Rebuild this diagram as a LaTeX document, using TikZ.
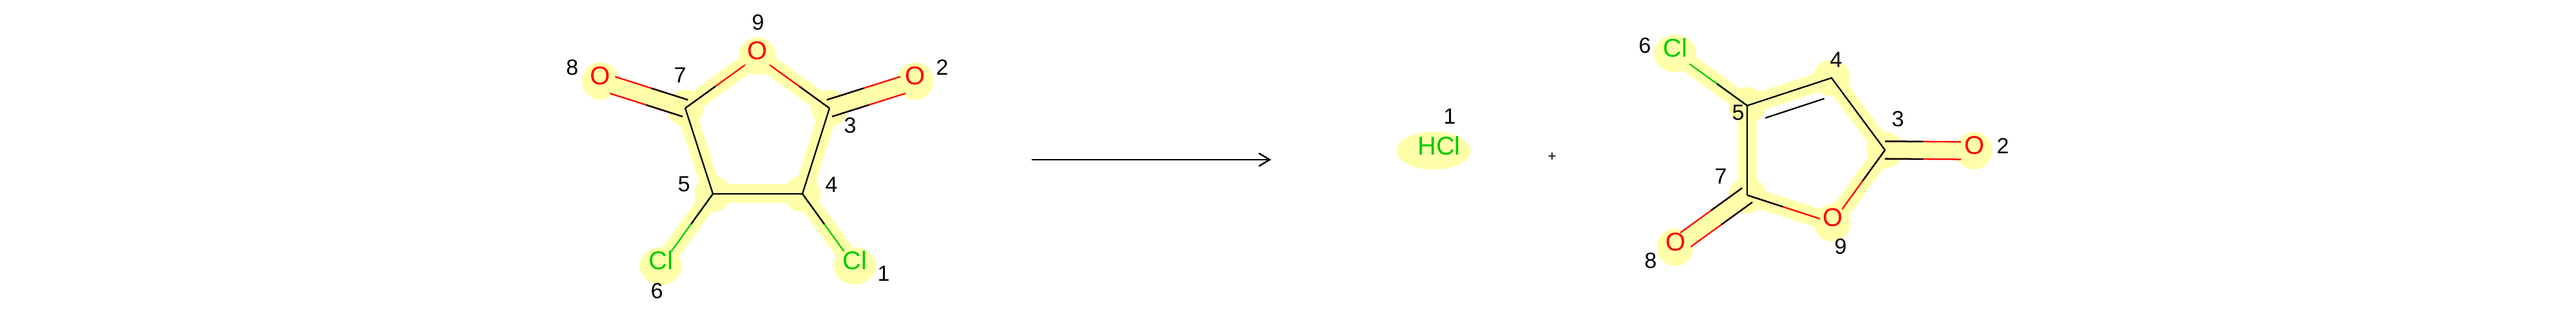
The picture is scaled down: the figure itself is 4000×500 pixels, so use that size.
\documentclass[tikz,border=0pt]{standalone}
\usepackage{fontspec}
\setmainfont{Liberation Sans}
\usepackage{tikz}
\usetikzlibrary{positioning,calc,shapes.geometric,arrows.meta}
\definecolor{hilite}{RGB}{255,255,170}
\definecolor{atomred}{RGB}{255,0,0}
\definecolor{atomgreen}{RGB}{0,204,0}
\tikzset{
	hlC/.style={circle, fill=hilite, inner sep=0, minimum size=14.25mm},
	hlO/.style={ellipse, fill=hilite, inner sep=0, minimum width=14.25mm, minimum height=14.5mm},
	hlCl/.style={ellipse, fill=hilite, inner sep=0, minimum width=16.4mm, minimum height=14.5mm},
	hlbond/.style={color=hilite, line width=7.25mm},
	bondline/.style={line width=.57mm},
	atomtxt/.style={inner sep=0, font=\fontsize{28.4}{32}\selectfont},
	numtxt/.style={inner sep=0, font=\fontsize{24.2}{28}\selectfont},
}
\newcommand{\singlebond}[4]{
	\draw[bondline, #3, shorten >=#4] (#1.center) -- (#2.center);
	\draw[bondline] (#1.center) -- ($(#1)!.42!(#2)$);
}
\newcommand{\dblbond}[3]{
	\foreach \s in {90,-90} {
		\coordinate (p) at ($(#1)!3.4mm!\s:(#2)$);
		\coordinate (q) at ($(#2)!3.4mm!-\s:(#1)$);
		\draw[bondline, #3, shorten >=5mm] (p) -- (q);
		\draw[bondline] (p) -- ($(p)!.43!(q)$);
	}
}
\begin{document}
\begin{tikzpicture}[x=.25mm, y=-.25mm]
		\path[use as bounding box, fill=white] (0,0) rectangle (4000,500);
		\node [hlO] (O9a) at (1176, 87) {};
		\node [hlO] (O8a) at (932, 126) {};
		\node [hlO] (O2a) at (1421, 126) {};
		\node [hlC] (C7a) at (1064, 168) {};
		\node [hlC] (C3a) at (1288, 168) {};
		\node [hlC] (C5a) at (1107, 301) {};
		\node [hlC] (C4a) at (1246, 301) {};
		\node [hlCl] (Cl6a) at (1026, 413) {};
		\node [hlCl] (Cl1a) at (1327, 413) {};
		\node [hlO] (O9b) at (2845, 346) {};
		\node [hlO] (O8b) at (2601, 384) {};
		\node [hlO] (O2b) at (3065, 234) {};
		\node [hlC] (C7b) at (2713, 303) {};
		\node [hlC] (C3b) at (2927, 233) {};
		\node [hlC] (C5b) at (2713, 164) {};
		\node [hlC] (C4b) at (2844, 121) {};
		\node [hlCl] (Cl6b) at (2601, 83) {};
		\node [ellipse, fill=hilite, inner sep=0, minimum width=28.75mm, minimum height=14.75mm] (hHCl) at (2226, 234) {};
		\foreach \a/\b in {C7a/O9a, C3a/O9a, C7a/O8a, C3a/O2a, C7a/C5a, C3a/C4a, C5a/C4a, C5a/Cl6a, C4a/Cl1a,
				C5b/Cl6b, C5b/C4b, C4b/C3b, C3b/O2b, C3b/O9b, C7b/O9b, C7b/O8b, C7b/C5b}
			\draw[hlbond] (\a.center) -- (\b.center);
		\draw[bondline] (C7a.center) -- (C5a.center) -- (C4a.center) -- (C3a.center);
		\draw[bondline] (C7b.center) -- (C5b.center) -- (C4b.center) -- (C3b.center);
		\coordinate (C5i) at ($(C5b)!6.75mm!-90:(C4b)$);
		\coordinate (C4i) at ($(C4b)!6.75mm!90:(C5b)$);
		\draw[bondline, shorten >=5.2mm, shorten <=5.2mm] (C5i) -- (C4i);
		\singlebond{C7a}{O9a}{atomred}{5.9mm}
		\singlebond{C3a}{O9a}{atomred}{5.9mm}
		\singlebond{C5a}{Cl6a}{atomgreen}{7mm}
		\singlebond{C4a}{Cl1a}{atomgreen}{7mm}
		\singlebond{C5b}{Cl6b}{atomgreen}{7mm}
		\singlebond{C3b}{O9b}{atomred}{6.5mm}
		\singlebond{C7b}{O9b}{atomred}{5mm}
		\dblbond{C7a}{O8a}{atomred}
		\dblbond{C3a}{O2a}{atomred}
		\dblbond{C3b}{O2b}{atomred}
		\dblbond{C7b}{O8b}{atomred}
		\foreach \n/\t/\c in {O9a/O/atomred, O8a/O/atomred, O2a/O/atomred, Cl6a/Cl/atomgreen, Cl1a/Cl/atomgreen,
				O9b/O/atomred, O8b/O/atomred, O2b/O/atomred, Cl6b/Cl/atomgreen}
			\node [atomtxt, text=\c] (t\n) at ($(\n)+(.5,-8.5)$) {\t};
		\node [atomtxt, text=atomgreen] (tHCl) at (2234.5, 226) {HCl};
		\foreach \n/\x/\y/\t in {n9a/1177/35/9, n8a/888.5/105/8, n7a/1056/117/7, n2a/1463/105/2, n3a/1320/195/3,
				n5a/1062/286/5, n4a/1291/287/4, n6a/1020/452/6, n1a/1372/425/1,
				n1h/2251/181/1,
				n6b/2554/71/6, n4b/2851/93/4, n5b/2699/175/5, n3b/2947/185/3, n2b/3110/227/2,
				n7b/2672/274/7, n9b/2858/383/9, n8b/2563/405/8}
			\node [numtxt] (\n) at (\x, \y) {\t};
		\node [inner sep=0, font=\fontsize{16.4}{18}\selectfont] (plus) at (2410, 244) {+};
		\coordinate (arrowstart) at (1602, 248);
		\coordinate (arrowend) at (1974, 248);
		\draw [-{Straight Barb[length=4.2mm, width=5mm]}, line width=.62mm] (arrowstart) -- (arrowend);
\end{tikzpicture}
\end{document}
